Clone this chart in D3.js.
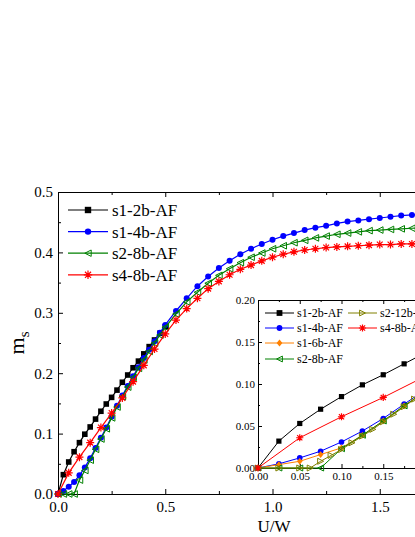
<!DOCTYPE html>
<html>
<head>
<meta charset="utf-8">
<script src="https://cdn.jsdelivr.net/npm/d3@7"></script>
<style>
  body { margin: 0; background: #fff; }
  svg { display: block; font-family: "Liberation Serif", "Times New Roman", serif; }
</style>
</head>
<body>
<script>
(function () {
  // main panel data (U/W vs m_s)
  const blackU = [0, 0.025, 0.05, 0.075, 0.1, 0.125, 0.15, 0.175, 0.2, 0.225, 0.25, 0.275, 0.3, 0.325, 0.35, 0.375, 0.4, 0.425, 0.45, 0.475, 0.5];
  const blackM = [0, 0.032, 0.053, 0.070, 0.085, 0.099, 0.111, 0.124, 0.137, 0.149, 0.160, 0.172, 0.185, 0.197, 0.209, 0.220, 0.232, 0.244, 0.255, 0.266, 0.277];
  const denseU = [0, 0.025, 0.05, 0.075, 0.1, 0.125, 0.15, 0.175, 0.2, 0.225, 0.25, 0.275, 0.3, 0.325, 0.35, 0.375, 0.4, 0.425, 0.45, 0.475, 0.5,
    0.55, 0.6, 0.65, 0.7, 0.75, 0.8, 0.85, 0.9, 0.95, 1.0, 1.05, 1.1, 1.15, 1.2, 1.25, 1.3, 1.35, 1.4, 1.45, 1.5, 1.55, 1.6, 1.65, 1.7];
  const blueM = [0, 0.005, 0.012, 0.020, 0.031, 0.044, 0.059, 0.076, 0.093, 0.110, 0.128, 0.146, 0.163, 0.179, 0.195, 0.210, 0.225, 0.239, 0.253, 0.267, 0.280,
    0.303, 0.324, 0.344, 0.360, 0.374, 0.386, 0.397, 0.406, 0.414, 0.421, 0.427, 0.432, 0.437, 0.441, 0.444, 0.448, 0.451, 0.453, 0.455, 0.457, 0.459, 0.461, 0.462, 0.463];
  const greenM = [0, 0, 0, 0, 0.023, 0.039, 0.056, 0.074, 0.091, 0.108, 0.126, 0.144, 0.161, 0.177, 0.193, 0.208, 0.222, 0.236, 0.250, 0.263, 0.276,
    0.298, 0.318, 0.334, 0.349, 0.362, 0.373, 0.383, 0.392, 0.399, 0.406, 0.411, 0.416, 0.420, 0.424, 0.427, 0.430, 0.432, 0.434, 0.436, 0.437, 0.438, 0.439, 0.440, 0.441];
  const redU = [0, 0.05, 0.1, 0.15, 0.2, 0.25, 0.3, 0.35, 0.4, 0.45, 0.5, 0.55, 0.6, 0.65, 0.7, 0.75, 0.8, 0.85, 0.9, 0.95,
    1.0, 1.05, 1.1, 1.15, 1.2, 1.25, 1.3, 1.35, 1.4, 1.45, 1.5, 1.55, 1.6, 1.65, 1.7];
  const redM = [0, 0.035, 0.061, 0.085, 0.110, 0.134, 0.159, 0.186, 0.213, 0.240, 0.265, 0.288, 0.307, 0.324, 0.340, 0.352, 0.363, 0.372, 0.379, 0.386,
    0.392, 0.397, 0.401, 0.404, 0.406, 0.408, 0.409, 0.410, 0.411, 0.412, 0.413, 0.413, 0.414, 0.414, 0.414];

  // inset data (small U/W)
  const insetU = [0, 0.025, 0.05, 0.075, 0.1, 0.125, 0.15, 0.175, 0.2];
  const inBlackM = [0, 0.032, 0.053, 0.070, 0.085, 0.099, 0.111, 0.124, 0.137];
  const inBlueM = [0, 0.005, 0.012, 0.020, 0.031, 0.044, 0.059, 0.076, 0.093];
  const inOrangeM = [0, 0.004, 0.008, 0.016, 0.024, 0.039, 0.056, 0.074, 0.091];
  const inGreenM = [0, 0, 0, 0, 0.023, 0.039, 0.056, 0.074, 0.091];
  const oliveU = [0, 0.025, 0.05, 0.0625, 0.075, 0.0875, 0.1, 0.1125, 0.125, 0.1375, 0.15, 0.1625, 0.175, 0.1875, 0.2];
  const oliveM = [0, 0, 0, 0, 0.008, 0.015, 0.022, 0.030, 0.038, 0.046, 0.055, 0.064, 0.073, 0.082, 0.091];
  const inRedU = [0, 0.05, 0.1, 0.15, 0.2];
  const inRedM = [0, 0.036, 0.061, 0.084, 0.109];

  const mainXTicks = [0, 0.5, 1.0, 1.5, 2.0];
  const mainXMinor = [0.25, 0.75, 1.25, 1.75];
  const mainYTicks = [0, 0.1, 0.2, 0.3, 0.4, 0.5];
  const mainYMinor = [0.05, 0.15, 0.25, 0.35, 0.45];
  const insetTicks = [0, 0.05, 0.1, 0.15, 0.2];
  const insetMinor = [0.025, 0.075, 0.125, 0.175];

  const mainNames = ['s1-2b-AF', 's1-4b-AF', 's2-8b-AF', 's4-8b-AF'];
  const insetNames = ['s1-2b-AF', 's1-4b-AF', 's1-6b-AF', 's2-8b-AF', 's2-12b-AF', 's4-8b-AF'];

  const width = 415;
  const height = 537;

  const svg = d3.select('body').append('svg')
    .attr('width', width)
    .attr('height', height);

  const x = d3.scaleLinear().domain([0, 2]).range([58, 487]);
  const y = d3.scaleLinear().domain([0, 0.5]).range([494, 192]);

  const ix = d3.scaleLinear().domain([0, 0.2]).range([258, 425]);
  const iy = d3.scaleLinear().domain([0, 0.2]).range([468, 300]);

  const styles = {
    black: { color: '#000000', shape: 'square' },
    blue: { color: '#0000ff', shape: 'circle' },
    orange: { color: '#ff8000', shape: 'diamond' },
    green: { color: '#008000', shape: 'triLeft' },
    olive: { color: '#808000', shape: 'triRight' },
    red: { color: '#ff0000', shape: 'star' },
  };

  function markerPath(shape, r) {
    if (shape === 'square') return d3.symbol(d3.symbolSquare, (2 * r) * (2 * r))();
    if (shape === 'circle') return d3.symbol(d3.symbolCircle, Math.PI * r * r)();
    if (shape === 'diamond') return `M0,${-r * 1.2}L${r},0L0,${r * 1.2}L${-r},0Z`;
    if (shape === 'triLeft') return `M${-r},0L${r},${-r}L${r},${r}Z`;
    if (shape === 'triRight') return `M${r},0L${-r},${-r}L${-r},${r}Z`;
    const k = r * 0.72;
    return `M${-r},0H${r}M0,${-r}V${r}M${-k},${-k}L${k},${k}M${-k},${k}L${k},${-k}`;
  }

  function drawMarker(g, st, cx, cy, r) {
    const p = g.append('path')
      .attr('transform', `translate(${cx},${cy})`)
      .attr('d', markerPath(st.shape, r));
    if (st.shape === 'triLeft' || st.shape === 'triRight') {
      p.attr('fill', 'none').attr('stroke', st.color).attr('stroke-width', 1);
    } else if (st.shape === 'star') {
      p.attr('fill', 'none').attr('stroke', st.color).attr('stroke-width', 1.2);
    } else {
      p.attr('fill', st.color);
    }
  }

  function drawSeries(g, xs, ys, sx, sy, st, r, lw) {
    const pts = xs.map((u, i) => [sx(u), sy(ys[i])]);
    g.append('path')
      .attr('d', d3.line()(pts))
      .attr('fill', 'none')
      .attr('stroke', st.color)
      .attr('stroke-width', lw);
    pts.forEach(p => drawMarker(g, st, p[0], p[1], r));
  }

  function styleAxis(g, size) {
    g.attr('font-family', null).attr('font-size', size);
    g.selectAll('path, line').attr('stroke', '#000').attr('stroke-width', 1);
    g.selectAll('text').attr('fill', '#000');
  }

  // main axes
  const fmt1 = d3.format('.1f');
  const fmt2 = d3.format('.2f');

  svg.append('g')
    .attr('transform', 'translate(0,494)')
    .call(d3.axisBottom(x).tickValues(mainXTicks).tickFormat(fmt1).tickSizeInner(-5).tickSizeOuter(0).tickPadding(7))
    .call(styleAxis, 15);
  svg.append('g')
    .attr('transform', 'translate(0,494)')
    .call(d3.axisBottom(x).tickValues(mainXMinor).tickFormat('').tickSizeInner(-3).tickSizeOuter(0))
    .call(styleAxis, 15);
  svg.append('g')
    .attr('transform', 'translate(0,192)')
    .call(d3.axisTop(x).tickValues(mainXTicks).tickFormat('').tickSizeInner(-5).tickSizeOuter(0))
    .call(styleAxis, 15);
  svg.append('g')
    .attr('transform', 'translate(0,192)')
    .call(d3.axisTop(x).tickValues(mainXMinor).tickFormat('').tickSizeInner(-3).tickSizeOuter(0))
    .call(styleAxis, 15);
  svg.append('g')
    .attr('transform', 'translate(58,0)')
    .call(d3.axisLeft(y).tickValues(mainYTicks).tickFormat(fmt1).tickSizeInner(-5).tickSizeOuter(0).tickPadding(5))
    .call(styleAxis, 15);
  svg.append('g')
    .attr('transform', 'translate(58,0)')
    .call(d3.axisLeft(y).tickValues(mainYMinor).tickFormat('').tickSizeInner(-3).tickSizeOuter(0))
    .call(styleAxis, 15);

  // main series
  const main = svg.append('g');
  drawSeries(main, blackU, blackM, x, y, styles.black, 2.8, 1.2);
  drawSeries(main, denseU, blueM, x, y, styles.blue, 3, 1.2);
  drawSeries(main, denseU, greenM, x, y, styles.green, 3.3, 1.2);
  drawSeries(main, redU, redM, x, y, styles.red, 4, 1.2);

  // axis titles
  svg.append('text')
    .attr('x', 274)
    .attr('y', 532)
    .attr('text-anchor', 'middle')
    .attr('font-size', 17)
    .text('U/W');

  const yt = svg.append('text')
    .attr('transform', 'translate(24,343) rotate(-90)')
    .attr('text-anchor', 'middle')
    .attr('font-size', 22);
  yt.append('tspan').text('m');
  yt.append('tspan').attr('font-size', 15).attr('dy', 5).text('s');

  // main legend
  const mainLegend = [styles.black, styles.blue, styles.green, styles.red];
  const leg = svg.append('g');
  mainLegend.forEach((st, i) => {
    const cy = 210 + i * 21.6;
    leg.append('line')
      .attr('x1', 68).attr('x2', 108)
      .attr('y1', cy).attr('y2', cy)
      .attr('stroke', st.color).attr('stroke-width', 1.2);
    drawMarker(leg, st, 88, cy, st.shape === 'star' ? 4.2 : 3.2);
    leg.append('text')
      .attr('x', 112).attr('y', cy)
      .attr('dy', '0.35em')
      .attr('font-size', 17)
      .text(mainNames[i]);
  });

  // inset
  const inset = svg.append('g');
  inset.append('rect')
    .attr('x', 258).attr('y', 300)
    .attr('width', 167).attr('height', 168)
    .attr('fill', '#fff');

  inset.append('g')
    .attr('transform', 'translate(0,468)')
    .call(d3.axisBottom(ix).tickValues(insetTicks).tickFormat(fmt2).tickSizeInner(-4).tickSizeOuter(0).tickPadding(4.5))
    .call(styleAxis, 11);
  inset.append('g')
    .attr('transform', 'translate(0,468)')
    .call(d3.axisBottom(ix).tickValues(insetMinor).tickFormat('').tickSizeInner(-2).tickSizeOuter(0))
    .call(styleAxis, 11);
  inset.append('g')
    .attr('transform', 'translate(0,300)')
    .call(d3.axisTop(ix).tickValues(insetTicks).tickFormat('').tickSizeInner(-4).tickSizeOuter(0))
    .call(styleAxis, 11);
  inset.append('g')
    .attr('transform', 'translate(0,300)')
    .call(d3.axisTop(ix).tickValues(insetMinor).tickFormat('').tickSizeInner(-2).tickSizeOuter(0))
    .call(styleAxis, 11);
  inset.append('g')
    .attr('transform', 'translate(258,0)')
    .call(d3.axisLeft(iy).tickValues(insetTicks).tickFormat(fmt2).tickSizeInner(-4).tickSizeOuter(0).tickPadding(3))
    .call(styleAxis, 11);
  inset.append('g')
    .attr('transform', 'translate(258,0)')
    .call(d3.axisLeft(iy).tickValues(insetMinor).tickFormat('').tickSizeInner(-2).tickSizeOuter(0))
    .call(styleAxis, 11);

  drawSeries(inset, insetU, inBlackM, ix, iy, styles.black, 2.6, 1);
  drawSeries(inset, insetU, inBlueM, ix, iy, styles.blue, 2.8, 1);
  drawSeries(inset, insetU, inOrangeM, ix, iy, styles.orange, 2.8, 1);
  drawSeries(inset, insetU, inGreenM, ix, iy, styles.green, 3, 1);
  drawSeries(inset, oliveU, oliveM, ix, iy, styles.olive, 3, 1);
  drawSeries(inset, inRedU, inRedM, ix, iy, styles.red, 3.6, 1);

  // inset legend, two columns
  const insetLegend = [styles.black, styles.blue, styles.orange, styles.green, styles.olive, styles.red];
  const rowsY = [313, 328, 343, 359];
  insetLegend.forEach((st, i) => {
    const col = i < 4 ? 0 : 1;
    const cy = rowsY[col ? i - 4 : i];
    const x0 = col ? 348 : 265;
    inset.append('line')
      .attr('x1', x0).attr('x2', x0 + 29)
      .attr('y1', cy).attr('y2', cy)
      .attr('stroke', st.color).attr('stroke-width', 1);
    drawMarker(inset, st, x0 + 14.5, cy, st.shape === 'star' ? 3.6 : 2.9);
    inset.append('text')
      .attr('x', x0 + 32).attr('y', cy)
      .attr('dy', '0.35em')
      .attr('font-size', 12)
      .text(insetNames[i]);
  });
})();
</script>
</body>
</html>
